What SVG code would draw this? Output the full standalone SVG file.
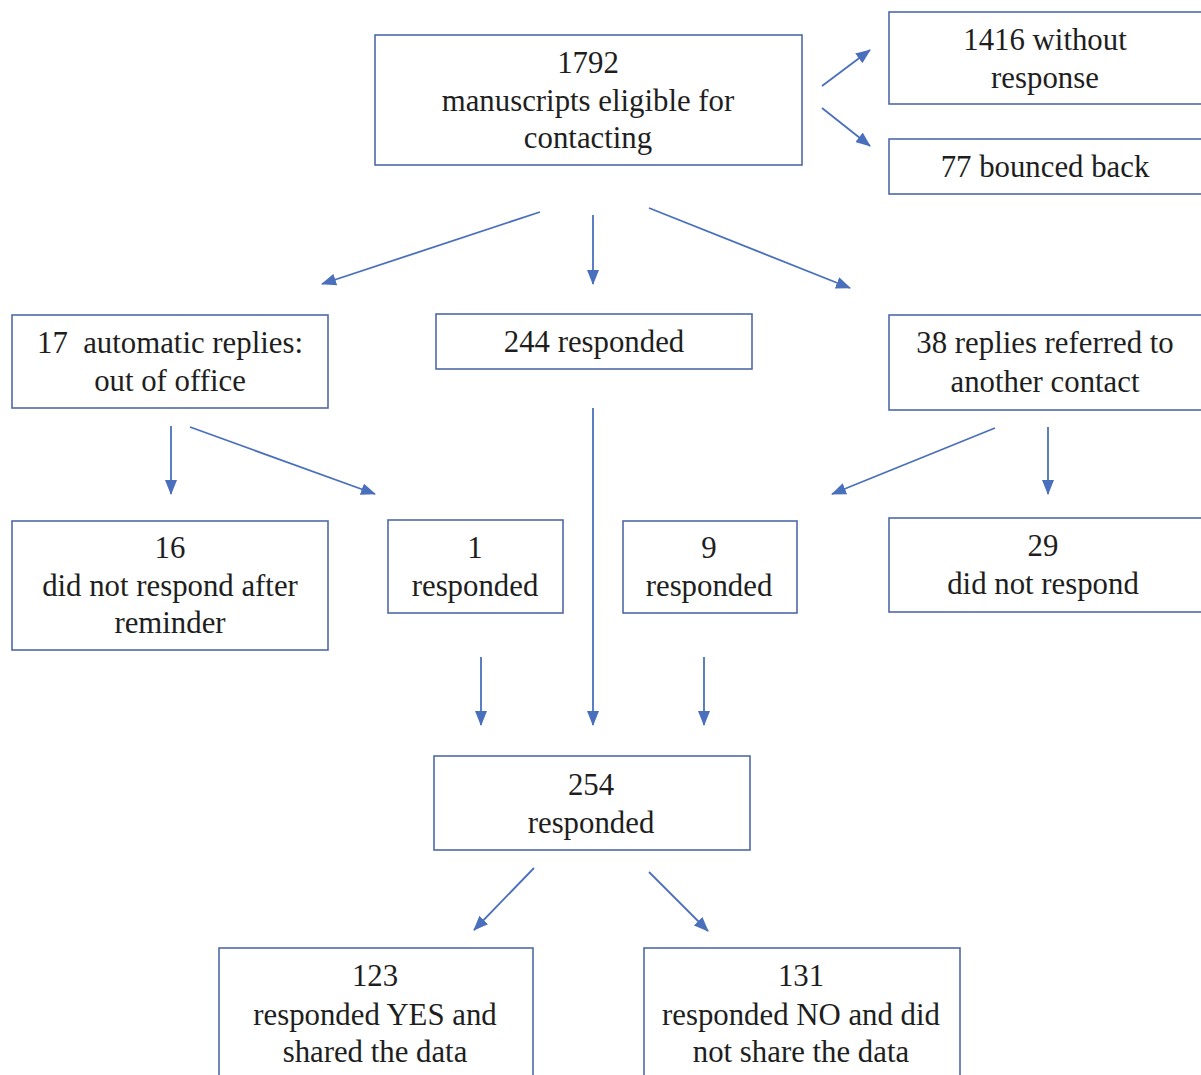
<svg xmlns="http://www.w3.org/2000/svg" width="1201" height="1075" viewBox="0 0 1201 1075">
<style>
.box{fill:#fff;stroke:#4f6aa6;stroke-width:1.6}
.t{font-family:'Liberation Serif','Times New Roman',Times,'DejaVu Serif',serif;font-size:30.8px;fill:#1e1e1e;text-anchor:middle}
.c{stroke:#4a70bd;stroke-width:1.8;fill:none;marker-end:url(#ah)}
</style>
<defs>
<marker id="ah" markerUnits="userSpaceOnUse" markerWidth="16" markerHeight="12" refX="14" refY="6" orient="auto">
<path d="M0,0 L15,6 L0,12 Z" fill="#4a70bd"/>
</marker>
</defs>
<rect width="1201" height="1075" fill="#fff"/>
<g id="connectors">
<line class="c" x1="822" y1="86" x2="870" y2="50"/>
<line class="c" x1="822" y1="108" x2="870" y2="146"/>
<line class="c" x1="540" y1="212" x2="322" y2="284"/>
<line class="c" x1="593" y1="215" x2="593" y2="284"/>
<line class="c" x1="649" y1="208" x2="850" y2="288"/>
<line class="c" x1="171" y1="426" x2="171" y2="494"/>
<line class="c" x1="190" y1="427" x2="375" y2="494"/>
<line class="c" x1="593" y1="408" x2="593" y2="725"/>
<line class="c" x1="995" y1="428" x2="832" y2="494"/>
<line class="c" x1="1048" y1="427" x2="1048" y2="494"/>
<line class="c" x1="481" y1="657" x2="481" y2="725"/>
<line class="c" x1="704" y1="657" x2="704" y2="725"/>
<line class="c" x1="534" y1="868" x2="474" y2="930"/>
<line class="c" x1="649" y1="872" x2="708" y2="931"/>
</g>
<g id="n1792"><rect class="box" x="375" y="35" width="427" height="130"/>
<text class="t" x="588" y="73">1792</text><text class="t" x="588" y="111">manuscripts eligible for</text><text class="t" x="588" y="148">contacting</text></g>
<g id="n1416"><rect class="box" x="889" y="12" width="318" height="92"/>
<text class="t" x="1045" y="50">1416 without</text><text class="t" x="1045" y="88">response</text></g>
<g id="n77"><rect class="box" x="889" y="139" width="318" height="55"/>
<text class="t" x="1045" y="177">77 bounced back</text></g>
<g id="n17"><rect class="box" x="12" y="315" width="316" height="93"/>
<text class="t" x="170" y="353" xml:space="preserve">17  automatic replies:</text><text class="t" x="170" y="391">out of office</text></g>
<g id="n244"><rect class="box" x="436" y="314" width="316" height="55"/>
<text class="t" x="594" y="352">244 responded</text></g>
<g id="n38"><rect class="box" x="889" y="315" width="318" height="95"/>
<text class="t" x="1045" y="353">38 replies referred to</text><text class="t" x="1045" y="392">another contact</text></g>
<g id="n16"><rect class="box" x="12" y="521" width="316" height="129"/>
<text class="t" x="170" y="558">16</text><text class="t" x="170" y="596">did not respond after</text><text class="t" x="170" y="633">reminder</text></g>
<g id="n1"><rect class="box" x="388" y="520" width="175" height="93"/>
<text class="t" x="475" y="558">1</text><text class="t" x="475" y="596">responded</text></g>
<g id="n9"><rect class="box" x="623" y="521" width="174" height="92"/>
<text class="t" x="709" y="558">9</text><text class="t" x="709" y="596">responded</text></g>
<g id="n29"><rect class="box" x="889" y="518" width="318" height="94"/>
<text class="t" x="1043" y="556">29</text><text class="t" x="1043" y="594">did not respond</text></g>
<g id="n254"><rect class="box" x="434" y="756" width="316" height="94"/>
<text class="t" x="591" y="795">254</text><text class="t" x="591" y="833">responded</text></g>
<g id="n123"><rect class="box" x="219" y="948" width="314" height="140"/>
<text class="t" x="375" y="986">123</text><text class="t" x="375" y="1025">responded YES and</text><text class="t" x="375" y="1062">shared the data</text></g>
<g id="n131"><rect class="box" x="644" y="948" width="316" height="140"/>
<text class="t" x="801" y="986">131</text><text class="t" x="801" y="1025">responded NO and did</text><text class="t" x="801" y="1062">not share the data</text></g>
</svg>
